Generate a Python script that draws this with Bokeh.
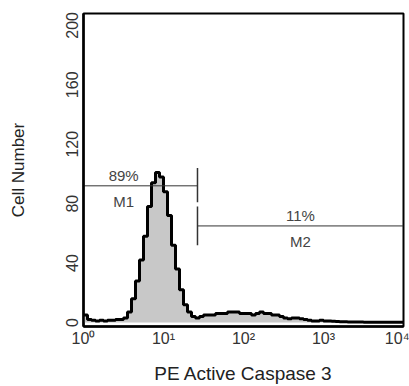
import numpy as np
from bokeh.plotting import figure
from bokeh.models import FixedTicker, Range1d
from bokeh.core.properties import value
from bokeh.embed import file_html
from bokeh.resources import INLINE

# histogram counts, 80 bins of 0.05 decade from 10^0 to 10^4
counts = [5, 2, 1.5, 1, 1.5, 1, 1.5, 1.5, 2, 2,
          3, 7, 16, 28, 42, 58, 78, 94, 101, 98,
          88, 72, 52, 36, 22, 12, 7, 4, 3, 4,
          5, 5, 5, 6, 6, 6, 7, 7, 7, 6,
          6, 6, 5, 6, 7, 6, 6, 5, 5, 4,
          3, 2.5, 3, 3, 2.5, 2, 1.5, 1, 1, 1.5,
          1, 1, 0.8, 0.6, 0.5, 0.5, 0.4, 0.3, 0.3, 0.3,
          0.2, 0.2, 0.2, 0.2, 0.2, 0.2, 0.2, 0.2, 0.2, 0.2]
bin_width_decades = 0.05

x_ticks = [1, 10, 100, 1000, 10000]
x_tick_labels = ["10⁰", "10¹", "10²", "10³", "10⁴"]
y_ticks = [0, 40, 80, 120, 160, 200]

# markers: start, end, level, percent label, name
m1_x = [1, 26.6]
m1_y = 92
m2_x = [26.6, 10000]
m2_y = 65
m1_pct, m2_pct = "89%", "11%"
m1_name, m2_name = "M1", "M2"

edges = 10 ** (np.arange(len(counts) + 1) * bin_width_decades)
ys = list(counts) + [counts[-1]]

p = figure(width=409, height=386, x_axis_type="log",
           x_range=Range1d(1, 10000), y_range=Range1d(-2.7, 208),
           output_backend="svg", toolbar_location=None,
           min_border_left=83, min_border_right=6, min_border_top=13,
           min_border_bottom=60)
p.grid.visible = False
p.outline_line_color = "black"
p.outline_line_width = 2
p.background_fill_color = "white"
p.border_fill_color = "white"

p.varea_step(x=edges, y1=0, y2=ys, step_mode="after", fill_color="#c8c8c8")
p.step(x=edges, y=ys, mode="after", line_color="black", line_width=3)

mark_col = "#333333"
# M1
p.line(x=m1_x, y=[m1_y, m1_y], line_color=mark_col, line_width=1)
p.line(x=[m1_x[1], m1_x[1]], y=[m1_y - 11, m1_y + 12], line_color=mark_col, line_width=1.5)
# M2
p.line(x=m2_x, y=[m2_y, m2_y], line_color=mark_col, line_width=1)
p.line(x=[m2_x[0], m2_x[0]], y=[m2_y - 13, m2_y + 13], line_color=mark_col, line_width=1.5)

m1_c = 10 ** ((np.log10(m1_x[0]) + np.log10(m1_x[1])) / 2 - 0.21)
m2_c = 10 ** ((np.log10(m2_x[0]) + np.log10(m2_x[1])) / 2)
for xc, yl, pct, nm in [(m1_c, m1_y, m1_pct, m1_name), (m2_c, m2_y, m2_pct, m2_name)]:
    p.text(x=[xc], y=[yl], text=[pct], text_align="center", text_baseline="bottom",
           y_offset=-2, text_font=value("Liberation Sans"), text_font_size="15px",
           text_color="#444444")
    p.text(x=[xc], y=[yl], text=[nm], text_align="center", text_baseline="top",
           y_offset=7, text_font=value("Liberation Sans"), text_font_size="15px",
           text_color="#444444")

for ax in (p.xaxis[0], p.yaxis[0]):
    ax.major_tick_line_color = None
    ax.minor_tick_line_color = None
    ax.major_tick_out = 0
    ax.major_tick_in = 0
    ax.minor_tick_out = 0
    ax.axis_line_color = "black"
    ax.axis_line_width = 2.5
    ax.major_label_text_font = "Liberation Sans"
    ax.major_label_text_font_size = "16px"
    ax.major_label_text_color = "#333333"
    ax.axis_label_text_font = "Liberation Sans"
    ax.axis_label_text_font_style = "normal"
    ax.axis_label_text_color = "#222222"

p.xaxis.ticker = FixedTicker(ticks=x_ticks)
p.xaxis.major_label_overrides = {t: l for t, l in zip(x_ticks, x_tick_labels)}
p.xaxis.axis_label = "PE Active Caspase 3"
p.xaxis.axis_label_text_font_size = "19px"
p.xaxis.major_label_standoff = 3
p.xaxis.axis_label_standoff = 13

p.yaxis.ticker = FixedTicker(ticks=y_ticks)
p.yaxis.major_label_orientation = "vertical"
p.yaxis.axis_label = "Cell Number"
p.yaxis.axis_label_text_font_size = "17px"
p.yaxis.major_label_standoff = 5
p.yaxis.axis_label_standoff = 36

open("out.html", "w").write(file_html(p, INLINE))
